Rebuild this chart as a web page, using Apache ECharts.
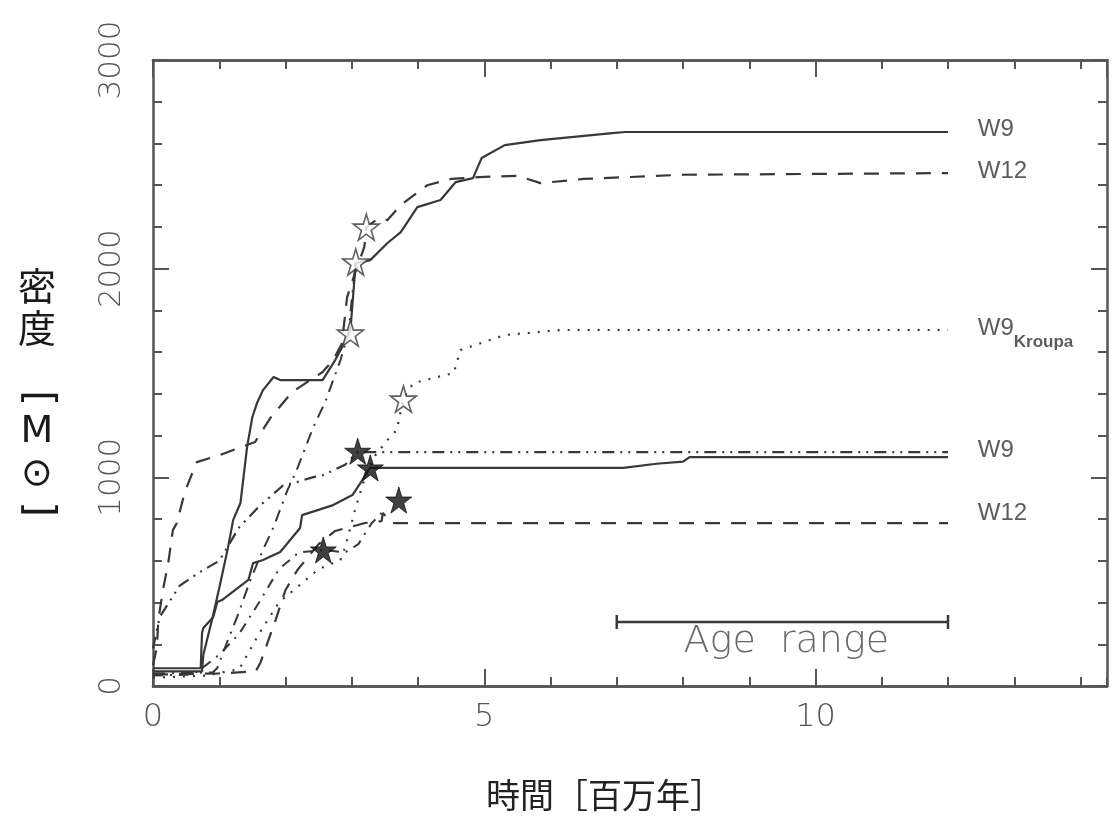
<!DOCTYPE html>
<html lang="ja" style="height: 100%">
<head>
    <meta charset="utf-8">
    <script type="text/javascript" src="https://cdn.jsdelivr.net/npm/echarts@6/dist/echarts.min.js"></script>
</head>
<body style="height: 100%; margin: 0; background: #fff">
    <div id="container" style="width: 1112px; height: 830px"></div>
    <script type="text/javascript">
        // 累積質量の曲線 [時間(百万年), 質量]
        var w9Top = [[0, 70], [0.74, 70], [0.76, 150], [0.9, 330], [1.0, 470], [1.13, 660], [1.21, 795], [1.32, 877], [1.42, 1145], [1.5, 1289], [1.57, 1356], [1.66, 1418], [1.82, 1481], [1.92, 1466], [2.56, 1466], [2.75, 1562], [2.9, 1650], [2.98, 1706], [3.06, 2027], [3.28, 2041], [3.54, 2123], [3.74, 2175], [3.99, 2295], [4.34, 2329], [4.57, 2415], [4.83, 2434], [4.96, 2530], [5.31, 2592], [5.85, 2616], [6.93, 2650], [7.13, 2655], [12, 2655]];
        var w12Top = [[0, 100], [0.06, 187], [0.08, 316], [0.15, 460], [0.23, 589], [0.3, 747], [0.36, 781], [0.48, 930], [0.66, 1073], [1.01, 1107], [1.54, 1169], [1.77, 1284], [2.1, 1409], [2.56, 1505], [2.72, 1562], [2.85, 1640], [2.93, 1864], [3.05, 1980], [3.19, 2104], [3.22, 2199], [3.4, 2240], [3.54, 2233], [3.74, 2305], [4.14, 2400], [4.5, 2430], [5.0, 2440], [5.5, 2445], [5.85, 2410], [6.5, 2430], [8, 2450], [12, 2458]];
        var w9Kroupa = [[0, 40], [0.8, 50], [1.3, 80], [1.6, 250], [1.9, 400], [2.2, 480], [2.5, 560], [2.83, 604], [2.9, 666], [3.01, 795], [3.06, 858], [3.2, 1000], [3.36, 1107], [3.54, 1179], [3.68, 1227], [3.78, 1380], [3.93, 1452], [4.54, 1500], [4.64, 1610], [5.31, 1682], [6.16, 1706], [12, 1706]];
        var w9Low = [[0, 85], [0.72, 85], [0.74, 254], [0.76, 278], [0.91, 331], [0.97, 402], [1.04, 412], [1.44, 508], [1.51, 589], [1.66, 604], [1.92, 642], [2.22, 757], [2.25, 819], [2.72, 867], [3.01, 915], [3.16, 987], [3.27, 1045], [7.1, 1045], [7.6, 1065], [8.0, 1075], [8.1, 1097], [12, 1097]];
        var w9LowAlt = [[0, 180], [0.1, 330], [0.4, 480], [0.7, 545], [1.0, 600], [1.3, 760], [1.6, 860], [1.97, 963], [2.12, 972], [2.42, 1001], [2.57, 1011], [2.9, 1060], [3.09, 1121], [12, 1121]];
        var w12Low = [[0, 55], [1.0, 60], [1.55, 70], [1.62, 110], [1.85, 316], [2.0, 460], [2.18, 556], [2.5, 680], [2.75, 743], [3.2, 781], [3.45, 790], [3.47, 829], [3.6, 781], [12, 781]];
        var dashDotUp = [[0, 60], [0.9, 65], [0.97, 86], [1.13, 220], [1.27, 331], [1.47, 508], [1.66, 652], [1.82, 762], [2.03, 939], [2.15, 1020], [2.42, 1241], [2.6, 1361], [2.83, 1562], [2.95, 1690], [3.0, 1850], [3.06, 2032]];
        var dashDotLow = [[0, 50], [0.6, 55], [0.8, 100], [1.0, 150], [1.3, 250], [1.6, 400], [1.9, 560], [2.2, 640], [2.57, 652], [2.9, 640], [3.1, 680], [3.3, 780], [3.45, 829]];
        var openStars = [[3.22, 2199], [3.06, 2032], [2.98, 1691], [3.78, 1375]];
        var filledStars = [[3.09, 1125], [3.28, 1045], [3.71, 891], [2.57, 652]];
        var ageRange = [[7, 307], [12, 307]];
        var ageText = [[9.56, 211, 'Age  range']];
        var curveLabels = [[12.45, 2659, 'W9'], [12.45, 2458, 'W12'], [12.45, 1706, 'W9K'], [12.45, 1121, 'W9'], [12.45, 819, 'W12']];
        var xMajor = [0, 5, 10];

        var ink = '#383838';
        var star = 'path://M50,0 L61,35 L98,35 L68,57 L79,91 L50,70 L21,91 L32,57 L2,35 L39,35 Z';
        var labelFont = 'DejaVu Sans';
        var cjk = '"Noto Sans CJK JP"';

        var dom = document.getElementById('container');
        var chart = echarts.init(dom, null, { renderer: 'canvas' });

        function curve(data, type, width) {
            return {
                type: 'line',
                data: data,
                showSymbol: false,
                symbol: 'none',
                silent: true,
                lineStyle: { color: ink, width: width || 2, type: type },
                z: 3
            };
        }

        function xAx(pos, interval, len, withLabel) {
            return {
                type: 'value', position: pos, min: 0, max: 14.4, interval: interval,
                axisLine: { show: true, onZero: false, lineStyle: { color: '#555', width: 2.5 } },
                axisTick: { show: true, inside: true, length: len, lineStyle: { color: '#555', width: 2 } },
                splitLine: { show: false },
                axisLabel: withLabel ? {
                    show: true, margin: 16, fontSize: 32, color: '#555', fontFamily: labelFont, fontWeight: 200,
                    formatter: function (v) { return xMajor.indexOf(v) >= 0 ? String(v) : ''; },
                    showMaxLabel: false
                } : { show: false }
            };
        }

        function yAx(pos, withLabel) {
            return {
                type: 'value', position: pos, min: 0, max: 3000, interval: 1000,
                axisLine: { show: true, onZero: false, lineStyle: { color: '#555', width: 2.5 } },
                axisTick: { show: true, inside: true, length: 16, lineStyle: { color: '#555', width: 2 } },
                minorTick: { show: true, splitNumber: 5, length: 9, lineStyle: { color: '#555', width: 2 } },
                splitLine: { show: false },
                axisLabel: withLabel ? {
                    show: true, rotate: 90, margin: 26, fontSize: 31, color: '#555', fontFamily: labelFont, fontWeight: 200,
                    formatter: function (v) { return String(v); }
                } : { show: false }
            };
        }

        // 縦書きの軸名: 一文字ずつ配置
        function vchar(t, cy, font, rot) {
            return {
                type: 'text', x: 37, y: cy, rotation: rot || 0,
                style: { text: t, font: font, fill: '#1a1a1a', align: 'center', verticalAlign: 'middle' }
            };
        }

        var option = {
            backgroundColor: '#fff',
            animation: false,
            grid: { left: 153, right: 5, top: 60, bottom: 144 },
            xAxis: [xAx('bottom', 5, 17, true), xAx('bottom', 1, 9, false), xAx('top', 5, 17, false), xAx('top', 1, 9, false)],
            yAxis: [yAx('left', true), yAx('right', false)],
            graphic: [
                {
                    type: 'text', left: 486, top: 778,
                    style: { text: '時間［百万年］', font: '34px ' + cjk, fill: '#222' }
                },
                vchar('密', 286, '38px ' + cjk),
                vchar('度', 328, '38px ' + cjk),
                vchar('[', 398, '40px "DejaVu Sans"', -Math.PI / 2),
                vchar('M', 432, '500 38px "DejaVu Sans"'),
                vchar('⊙', 475, '38px "DejaVu Sans"'),
                vchar(']', 509, '40px "DejaVu Sans"', -Math.PI / 2)
            ],
            series: [
                curve(w9Top, 'solid', 2.2),
                curve(w12Top, [15, 11], 2.2),
                curve(w9Kroupa, [2, 8], 2.2),
                curve(w9Low, 'solid', 2.2),
                curve(w9LowAlt, [12, 6, 2, 6, 2, 6], 2.2),
                curve(w12Low, [15, 11], 2.2),
                curve(dashDotUp, [12, 7, 2, 7], 2),
                curve(dashDotLow, [10, 7, 2, 7], 2),
                {
                    type: 'line', data: ageRange, symbol: 'rect', symbolSize: [2.5, 14], showSymbol: true,
                    itemStyle: { color: ink }, lineStyle: { color: ink, width: 2.5 }, silent: true, z: 3
                },
                {
                    type: 'scatter', data: openStars, symbol: star, symbolSize: 26, silent: true,
                    itemStyle: { color: '#fff', borderColor: ink, borderWidth: 1.6 }, z: 5
                },
                {
                    type: 'scatter', data: filledStars, symbol: star, symbolSize: 26, silent: true,
                    itemStyle: { color: '#111', borderColor: '#111', borderWidth: 1 }, z: 5
                },
                {
                    type: 'scatter', data: ageText, symbolSize: 0, silent: true,
                    label: {
                        show: true, position: 'inside', formatter: function (p) { return p.data[2]; },
                        fontSize: 38, color: '#444', fontFamily: labelFont, fontWeight: 200
                    }
                },
                {
                    type: 'scatter', data: curveLabels, symbolSize: 0, silent: true,
                    label: {
                        show: true, position: 'right', distance: 0, color: '#333', fontFamily: 'Liberation Sans',
                        formatter: function (p) {
                            return p.data[2] === 'W9K' ? '{m|W9}{s|Kroupa}' : '{m|' + p.data[2] + '}';
                        },
                        rich: {
                            m: { fontSize: 24, fontFamily: 'Liberation Sans', color: '#333', verticalAlign: 'top', lineHeight: 28 },
                            s: { fontSize: 17, fontFamily: 'Liberation Sans', color: '#333', fontWeight: 'bold', padding: [24, 0, 0, 0], lineHeight: 28 }
                        }
                    }
                }
            ]
        };
        chart.setOption(option);
        window.addEventListener('resize', chart.resize);
    </script>
</body>
</html>
